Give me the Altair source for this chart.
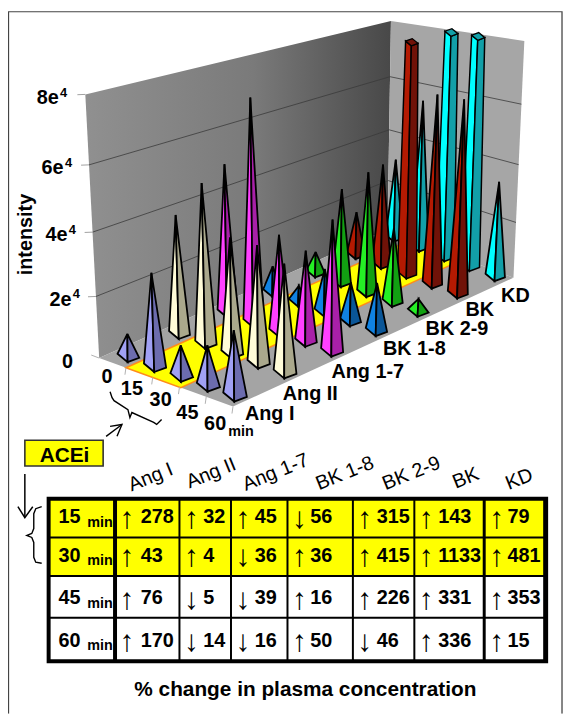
import altair as alt

# ---------- data ----------
categories = ["Ang I", "Ang II", "Ang 1-7", "BK 1-8", "BK 2-9", "BK", "KD"]
times = ["0", "15", "30", "45", "60"]
angI = [7200, 29200, 9400, 12200, 19300]
angII = [39000, 50900, 36400, 36300, 33000]
ang17 = [49900, 72200, 31700, 29100, 40900]
bk18 = [9100, 5300, 14500, 12900, 15600]
bk29 = [7600, 33500, 41700, 25400, 4100]
bk = [16300, 36900, 228000, 64800, 64900]
kd = [30700, 55000, 270000, 260000, 33600]
series = [angI, angII, ang17, bk18, bk29, bk, kd]
y_ticks = [0, 20000, 40000, 60000, 80000]
y_labels = ["0", "2e", "4e", "6e", "8e"]
table_rows = ["15", "30", "45", "60"]
table_dirs = [
    ["↑", "↑", "↑", "↓", "↑", "↑", "↑"],
    ["↑", "↑", "↓", "↑", "↑", "↑", "↑"],
    ["↑", "↓", "↓", "↑", "↑", "↑", "↑"],
    ["↑", "↓", "↓", "↑", "↓", "↑", "↑"],
]
table_vals = [
    ["278", "32", "45", "56", "315", "143", "79"],
    ["43", "4", "36", "36", "415", "1133", "481"],
    ["76", "5", "39", "16", "226", "331", "353"],
    ["170", "14", "16", "50", "46", "336", "15"],
]
face_left = ["#a0a0f4", "#fffcd8", "#ff40ff", "#1082e2", "#25f025", "#b41a02", "#00ffff"]
face_right = ["#6c6cae", "#aaa88c", "#a820a8", "#0a5698", "#12a012", "#701208", "#129fa8"]

# ---------- layout (page pixels) ----------
W, H = 560, 709
OX, OY = 8, 8
L, F, B_, R_ = (100, 358), (235, 407), (391, 228), (518, 277)
VP = (321, 4560)
YMAX = 80000


def floor(u, v):
    x = L[0]*(1-u)*(1-v) + F[0]*u*(1-v) + B_[0]*(1-u)*v + R_[0]*u*v
    y = L[1]*(1-u)*(1-v) + F[1]*u*(1-v) + B_[1]*(1-u)*v + R_[1]*u*v
    return x, y


def rise(p, u, v, val):
    frac = min(val, YMAX) / YMAX
    g = 0.914 * frac / (1 - 0.086 * frac)
    h = (266 + 29*u - 56*v) * g
    return (p[0] + (p[0]-VP[0]) * h / (VP[1]-p[1]), p[1] - h)


def at(u, v, val=0):
    return rise(floor(u, v), u, v, val)


def pt(p):
    return [p[0]-OX, p[1]-OY]


def poly(points, fill, stroke="none", sw=0.0):
    ring = [pt(p) for p in points]
    ring.append(ring[0])
    return {"type": "Feature", "geometry": {"type": "Polygon", "coordinates": [ring]},
            "properties": {"fill": fill, "stroke": stroke, "sw": sw}}


def line(points, stroke="#000000", sw=1.0):
    return {"type": "Feature", "geometry": {"type": "LineString", "coordinates": [pt(p) for p in points]},
            "properties": {"stroke": stroke, "sw": sw}}


def cat_pos(c):
    w = c / 6
    return 0.055 + 0.925 * (1.19*w) / (1 + 0.19*w)


# walls / floor
left_wall = [at(0, 0), at(0, 1), at(0, 1, YMAX), at(0, 0, YMAX)]
right_wall = [at(0, 1), at(1, 1), at(1, 1, YMAX), at(0, 1, YMAX)]
floor_poly = [at(0, 0), at(1, 0), at(1, 1), at(0, 1)]

back = [poly(right_wall, "#a6a6a6"), poly(floor_poly, "#a4a4a4"),
        poly([at(.2, 0), at(.61, 0), at(.61, 1), at(.2, 1)], "#ffff00", "#ff8c1a", 1.5)]
grid = []
for t in y_ticks[1:-1]:
    grid.append(line([at(0, 0, t), at(0, 1, t), at(1, 1, t)], "#3a3a3a", 0.8))
for t in y_ticks[1:]:
    a = at(0, 0, t)
    grid.append(line([(a[0]-8, a[1]+0.3), a], "#a0a0a0", 1))
a = at(0, 0)
grid.append(line([(a[0]-8, a[1]-3), a], "#b0b0b0", 1))
for i in range(1, 6):
    a = at(i/5, 0)
    grid.append(line([a, (a[0]-1, a[1]+7)], "#b0b0b0", 1))

# pyramids, painted from the back of the scene to the front
faces = []
for c in range(len(categories)-1, -1, -1):
    v = cat_pos(c)
    for i in range(len(times)):
        u = (i + 0.5) / 5
        val = series[c][i]
        p = floor(u, v)
        k = (266 + 29*u - 56*v) / 262
        lc = (p[0]-10.8*k, p[1]-2*k)
        fc = (p[0]-0.8*k, p[1]+6.3*k)
        rc = (p[0]+10.8*k, p[1]+2*k)
        bc = (p[0]+0.8*k, p[1]-6.3*k)
        apex = rise(p, u, v, val)
        if val <= YMAX:
            faces.append(poly([lc, fc, apex], face_left[c], "#000000", 1.8))
            faces.append(poly([fc, rc, apex], face_right[c], "#000000", 1.8))
        else:
            s = 1 - YMAX / val
            mix = lambda q: (apex[0] + (q[0]-p[0])*s, apex[1] + (q[1]-p[1])*s)
            faces.append(poly([lc, fc, mix(fc), mix(lc)], face_left[c], "#000000", 1.5))
            faces.append(poly([fc, rc, mix(rc), mix(fc)], face_right[c], "#000000", 1.5))
            faces.append(poly([mix(lc), mix(fc), mix(rc), mix(bc)], face_right[c], "#000000", 1.3))

# table
col_edges = [(51, 114), (118, 180), (182, 232), (234, 289), (291, 355), (357, 417), (419, 487), (490, 548)]
row_edges = [(502, 538), (540, 577), (579, 619), (621, 662)]
row_mid = [517, 556, 599, 642]
arrow_x = [128, 193, 245, 302, 368, 430, 501]
num_x = [142, 205, 257, 313, 380, 442, 512]
table = [poly([(47, 498), (553, 498), (553, 666), (47, 666)], "#000000")]
for r, (y0, y1) in enumerate(row_edges):
    for (x0, x1) in col_edges:
        table.append(poly([(x0, y0), (x1, y0), (x1, y1), (x0, y1)], "#ffff00" if r < 2 else "#ffffff"))
table.append(poly([(25, 441), (104, 441), (104, 467), (25, 467)], "#ffff00", "#333333", 1.6))

# annotation strokes
notes = [
    line([(8.5, 717), (8.5, 8.5), (567, 8.5), (567, 717)], "#444444", 1.3),
    line([(111, 392), (113, 398), (115, 401), (129, 410), (131, 418), (133, 413), (155, 423), (158, 425), (163, 420)], "#000000", 1.4),
    line([(107, 437), (123, 425)], "#000000", 1.4),
    line([(111, 427), (123, 425), (118, 437)], "#000000", 1.4),
    line([(25, 475), (25, 518)], "#000000", 1.5),
    line([(18, 508), (25, 519), (33, 508)], "#000000", 1.5),
    line([(42, 508), (36, 510), (34, 515), (34, 530), (32, 535), (27, 537), (32, 539), (34, 544), (34, 559), (36, 564), (42, 565)], "#000000", 1.4),
]

# ---------- text tables ----------
FONT = "Liberation Sans"
texts = []


def label(x, y, text, size=20, weight="bold", angle=0, align="center"):
    texts.append({"x": x-OX, "y": y-OY + 0.07*size, "t": text, "s": size, "w": weight, "a": angle, "al": align})


for name, (x, y) in zip(categories, [(272, 413), (313, 393), (371, 371), (418, 348), (461, 327), (484, 308), (520, 294)]):
    label(x, y, name)
for name, (x, y) in zip(times, [(108, 376), (133, 388), (162, 399), (189, 412), (217, 423)]):
    label(x, y, name)
label(243, 432, "min", 14.5)
for t, (x, y, sx, sy) in zip(y_labels, [(68, 361, 0, 0), (61, 298, 77, 293), (57, 233, 73, 228), (53, 165, 69, 160), (48, 94, 64, 90)]):
    label(x, y, t)
    if sx:
        label(sx, sy, "4", 13)
label(26, 232, "intensity", 20, angle=270)
label(65, 455, "ACEi", 21)
label(308, 692, "% change in plasma concentration", 21)
for name, (x, y) in zip(categories, [(152, 477), (213, 473), (278, 472), (348, 473), (415, 473), (470, 478), (524, 479)]):
    label(x, y, name, 20, "normal", angle=338)
for r, name in enumerate(table_rows):
    label(59, row_mid[r], name, 20, align="left")
    label(88, row_mid[r]+6, "min", 14.5, align="left")
    for c in range(len(categories)):
        label(arrow_x[c], row_mid[r]+1, table_dirs[r][c], 30, "normal")
        label(num_x[c], row_mid[r], table_vals[r][c], 20, align="left")


# ---------- chart ----------
identity = alt.Projection(type="identity", scale=1, translate=[0, 0])


def shapes(features, filled=True, **mark):
    d = alt.Data(values=features)
    if filled:
        return alt.Chart(d).mark_geoshape(**mark).encode(
            fill=alt.Fill("properties.fill:N", scale=None),
            stroke=alt.Stroke("properties.stroke:N", scale=None),
            strokeWidth=alt.StrokeWidth("properties.sw:Q", scale=None),
        ).project(**identity.to_dict())
    return alt.Chart(d).mark_geoshape(filled=False, **mark).encode(
        stroke=alt.Stroke("properties.stroke:N", scale=None),
        strokeWidth=alt.StrokeWidth("properties.sw:Q", scale=None),
    ).project(**identity.to_dict())


wall = alt.Chart(alt.Data(values=[poly(left_wall, "x")])).mark_geoshape(
    fill=alt.Gradient(gradient="linear", x1=0, x2=1, y1=0, y2=0,
                      stops=[alt.GradientStop(color="#909090", offset=0),
                             alt.GradientStop(color="#7a7a7a", offset=0.55),
                             alt.GradientStop(color="#484848", offset=1)]),
    stroke=None).project(**identity.to_dict())

xs = alt.Scale(domain=[0, W], range=[0, W])
ys = alt.Scale(domain=[0, H], range=[0, H])
text_layers = []
for (sz, wt, ang, al) in sorted({(t["s"], t["w"], t["a"], t["al"]) for t in texts}, key=str):
    rows = [t for t in texts if (t["s"], t["w"], t["a"], t["al"]) == (sz, wt, ang, al)]
    text_layers.append(
        alt.Chart(alt.Data(values=rows)).mark_text(
            font=FONT, fontSize=sz, fontWeight=wt, angle=ang, align=al, baseline="middle", color="#000000"
        ).encode(
            x=alt.X("x:Q", scale=xs, axis=None),
            y=alt.Y("y:Q", scale=ys, axis=None),
            text="t:N",
        )
    )

chart = alt.layer(
    wall, shapes(back), shapes(grid, filled=False), shapes(faces), shapes(table),
    shapes(notes, filled=False), *text_layers
).properties(
    width=W, height=H, padding=0, background="#ffffff",
    autosize=alt.AutoSizeParams(type="none"),
).configure_view(stroke=None)

chart.save("out.html", embed_options={"renderer": "svg", "actions": False})
